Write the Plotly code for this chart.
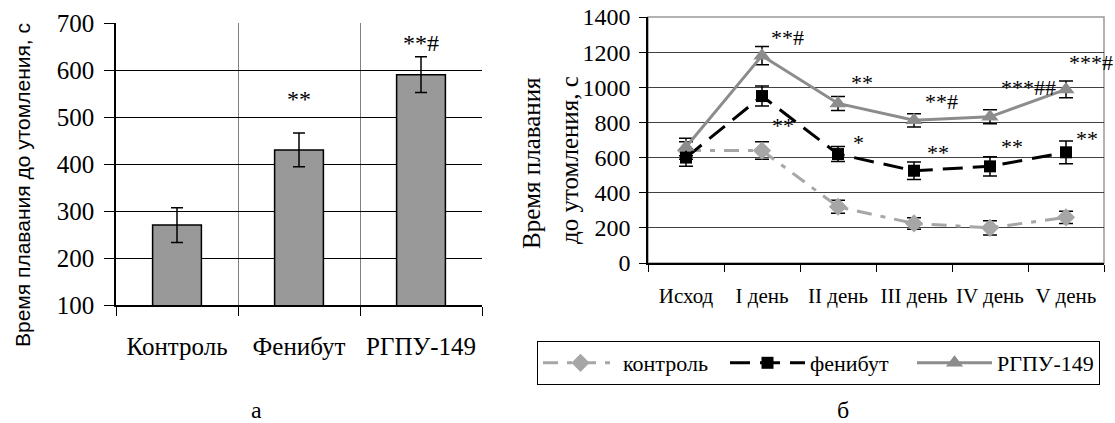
import plotly.graph_objects as go

# ---- Panel а: bar chart ----
groups = ["Контроль", "Фенибут", "РГПУ-149"]
group_means = [270, 430, 590]
group_err = [37, 36, 38]
group_marks = ["", "**", "**#"]
group_mark_y = [None, 549, 668]

# ---- Panel б: line chart ----
days = ["Исход", "I день", "II день", "III день", "IV день", "V день"]
control = [640, 640, 320, 225, 200, 260]
control_err = [50, 50, 37, 33, 40, 35]
phenibut = [600, 950, 620, 525, 550, 630]
phenibut_err = [50, 57, 43, 50, 55, 65]
rgpu = [660, 1180, 908, 812, 832, 988]
rgpu_err = [50, 52, 40, 38, 40, 48]

# significance marks: (day, y value, text, xshift px)
rgpu_marks = [("I день", 1310, "**#", 26), ("II день", 1053, "**", 24),
              ("III день", 945, "**#", 28), ("IV день", 1030, "***##", 38),
              ("V день", 1167, "***#", 25)]
phen_marks = [("I день", 813, "**", 21), ("II день", 716, "*", 21),
              ("III день", 659, "**", 24), ("IV день", 693, "**", 22),
              ("V день", 738, "**", 21)]

SERIF = "Liberation Serif, Times New Roman, serif"
SANS = "Liberation Sans, Arial, sans-serif"
W, H = 1115, 423

def px_x(p):
    return p / W

def px_y(p):
    return 1 - p / H

fig = go.Figure()

fig.add_trace(go.Bar(
    x=groups, y=group_means, width=0.4,
    marker=dict(color="#999999", line=dict(color="black", width=1.5)),
    error_y=dict(type="data", array=group_err, color="black", thickness=1.5, width=6),
    xaxis="x", yaxis="y", showlegend=False,
))

fig.add_trace(go.Scatter(
    x=days, y=control, name="контроль", mode="lines+markers",
    line=dict(color="#a6a6a6", width=3, dash="15px,9px,5px,9px"),
    marker=dict(symbol="diamond", size=14, color="#a6a6a6"),
    error_y=dict(type="data", array=control_err, color="black", thickness=1.5, width=7),
    xaxis="x2", yaxis="y2",
))
fig.add_trace(go.Scatter(
    x=days, y=phenibut, name="фенибут", mode="lines+markers",
    line=dict(color="black", width=3, dash="20px,10px"),
    marker=dict(symbol="square", size=12, color="black"),
    error_y=dict(type="data", array=phenibut_err, color="black", thickness=1.5, width=7),
    xaxis="x2", yaxis="y2",
))
fig.add_trace(go.Scatter(
    x=days, y=rgpu, name="РГПУ-149", mode="lines+markers",
    line=dict(color="#8c8c8c", width=3),
    marker=dict(symbol="triangle-up", size=15, color="#8c8c8c"),
    error_y=dict(type="data", array=rgpu_err, color="black", thickness=1.5, width=7),
    xaxis="x2", yaxis="y2",
))

annotations = []
for g, t, yv in zip(groups, group_marks, group_mark_y):
    if t:
        annotations.append(dict(x=g, y=yv, xref="x", yref="y", text=t, showarrow=False,
                                xanchor="center", yanchor="middle",
                                font=dict(family=SERIF, size=24, color="black"), yshift=-5))
for d, yv, t, xs in rgpu_marks + phen_marks:
    annotations.append(dict(x=d, y=yv, xref="x2", yref="y2", text=t, showarrow=False,
                            xanchor="center", yanchor="middle", xshift=xs, yshift=-5,
                            font=dict(family=SERIF, size=22, color="black")))

def paper_text(x, y, text, family, size, angle=0):
    return dict(x=px_x(x), y=px_y(y), xref="paper", yref="paper", text=text,
                textangle=angle, showarrow=False, xanchor="center", yanchor="middle",
                font=dict(family=family, size=size, color="black"))

annotations += [
    paper_text(22, 185, "Время плавания до утомления, с", SANS, 21, -90),
    paper_text(531, 163, "Время плавания", SERIF, 25, -90),
    paper_text(569, 160, "до утомления, с", SERIF, 25, -90),
    paper_text(256, 410, "а", SERIF, 24),
    paper_text(843, 410, "б", SERIF, 24),
]

fig.update_layout(
    template="none",
    width=W, height=H,
    margin=dict(l=0, r=0, t=0, b=0, pad=0),
    paper_bgcolor="white", plot_bgcolor="white",
    font=dict(family=SERIF, color="black"),
    xaxis=dict(domain=[px_x(116), px_x(482)], type="category", range=[-0.5, 2.5],
               automargin=False, tickangle=0,
               tickson="boundaries", ticks="outside", ticklen=9, tickcolor="black",
               showgrid=True, gridcolor="#808080", gridwidth=1,
               showline=True, linecolor="black", linewidth=1.5,
               tickfont=dict(family=SERIF, size=25, color="black"), ticklabelstandoff=18),
    yaxis=dict(domain=[px_y(305), px_y(23)], range=[100, 700], dtick=100,
               automargin=False,
               ticks="outside", ticklen=10, tickcolor="black",
               showgrid=True, gridcolor="black", gridwidth=1,
               showline=True, linecolor="black", linewidth=1.5,
               tickfont=dict(family=SERIF, size=25, color="black"), ticklabelstandoff=5,
               zeroline=False),
    xaxis2=dict(domain=[px_x(648), px_x(1104)], type="category", range=[-0.5, 5.5],
                automargin=False, tickangle=0,
                tickson="boundaries", ticks="outside", ticklen=7, tickcolor="black",
                showgrid=False, showline=True, linecolor="black", linewidth=1.5,
                tickfont=dict(family=SERIF, size=21, color="black"), ticklabelstandoff=13,
                anchor="y2"),
    yaxis2=dict(domain=[px_y(263), px_y(17)], range=[0, 1400], dtick=200,
                automargin=False,
                ticks="outside", ticklen=7, tickcolor="black",
                showgrid=True, gridcolor="#404040", gridwidth=1,
                showline=True, linecolor="black", linewidth=1.5,
                tickfont=dict(family=SERIF, size=24, color="black"), ticklabelstandoff=4,
                zeroline=False, anchor="x2"),
    shapes=[
        dict(type="rect", xref="x2 domain", yref="y2 domain", x0=0, x1=1, y0=0, y1=1,
             line=dict(color="#999999", width=1.5), layer="below"),
    ],
    legend=dict(orientation="h", x=px_x(537), y=px_y(341), xanchor="left", yanchor="top",
                bordercolor="black", borderwidth=1, bgcolor="white",
                font=dict(family=SERIF, size=22, color="black"),
                entrywidth=97, itemwidth=75, tracegroupgap=0),
    annotations=annotations,
)

fig.write_html("out.html", config={"displayModeBar": False},
               post_script="document.body.style.margin='0px';document.body.style.overflow='hidden';")
